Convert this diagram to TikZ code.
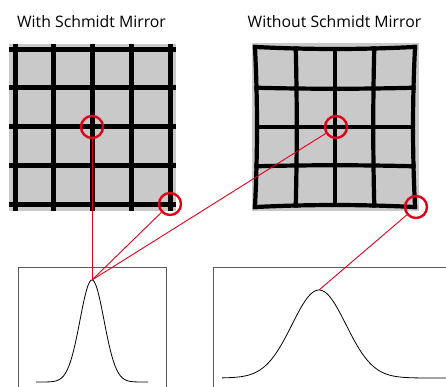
\documentclass[tikz,border=0pt]{standalone}
\usepackage{fontspec}
\setmainfont{Open Sans}
\definecolor{panelgray}{RGB}{200,201,200}
\definecolor{markred}{RGB}{226,0,26}
\definecolor{boxgray}{RGB}{90,90,90}
\begin{document}
\begin{tikzpicture}[x=1pt, y=-1pt,
  gridline/.style={line width=5pt, black},
  markcircle/.style={circle, draw=markred, line width=2.4pt, minimum size=22pt, inner sep=0pt},
  pointer/.style={draw=markred, line width=0.9pt},
  plotbox/.style={draw=boxgray, line width=0.9pt},
  caption/.style={font=\fontsize{15.8}{18}\selectfont, anchor=base}]
  \useasboundingbox (0,0) rectangle (446,386);
  \clip (0,0) rectangle (446,386);
  \node[caption] (withT) at (91.5,27) {With Schmidt Mirror};
  \node[caption] (withoutT) at (334.5,27) {Without Schmidt Mirror};
  % corrected grid
  \fill[panelgray] (9,44) rectangle (176,211);
  \foreach \i in {0,...,4} {
    \draw[gridline] ({15+38.75*\i},44) -- ({15+38.75*\i},211);
    \draw[gridline] (9,{49+38.75*\i}) -- (176,{49+38.75*\i});
  }
  % distorted grid (pincushion)
  \fill[panelgray] (252,43) rectangle (419,211);
  \foreach \u in {-2,...,2} {
    \draw[gridline, line width=4.2pt, line cap=rect] plot[smooth, variable=\t, domain=-2:2, samples=9]
      ({335+38*\u*(1+0.0066*(\u*\u+\t*\t))}, {127+38*\t*(1+0.0066*(\u*\u+\t*\t))});
    \draw[gridline, line width=4.2pt, line cap=rect] plot[smooth, variable=\t, domain=-2:2, samples=9]
      ({335+38*\t*(1+0.0066*(\u*\u+\t*\t))}, {127+38*\u*(1+0.0066*(\u*\u+\t*\t))});
  }
  \node[markcircle] (cenL) at (92,127) {};
  \node[markcircle] (cornL) at (170,204) {};
  \node[markcircle] (cenR) at (336,127) {};
  \node[markcircle] (cornR) at (416,207) {};
  % point spread plots
  \draw[plotbox] (18,420) -- (18,267) -- (166,267) -- (166,420);
  \draw[plotbox] (213,420) -- (213,267) -- (460,267);
  \draw[line width=0.8pt] plot[domain=36:148, samples=120]
    (\x, {382-102*exp(-0.5*((\x-92)/12)*((\x-92)/12))});
  \draw[line width=0.8pt] plot[domain=222:446, samples=150]
    (\x, {378-88*exp(-0.5*((\x-319)/27)*((\x-319)/27))});
  \coordinate (peakL) at (92,280);
  \coordinate (peakR) at (319,290);
  \draw[pointer] (peakL) -- (cenL);
  \draw[pointer] (peakL) -- (cornL);
  \draw[pointer] (peakL) -- (cenR);
  \draw[pointer] (peakR) -- (cornR);
\end{tikzpicture}
\end{document}
